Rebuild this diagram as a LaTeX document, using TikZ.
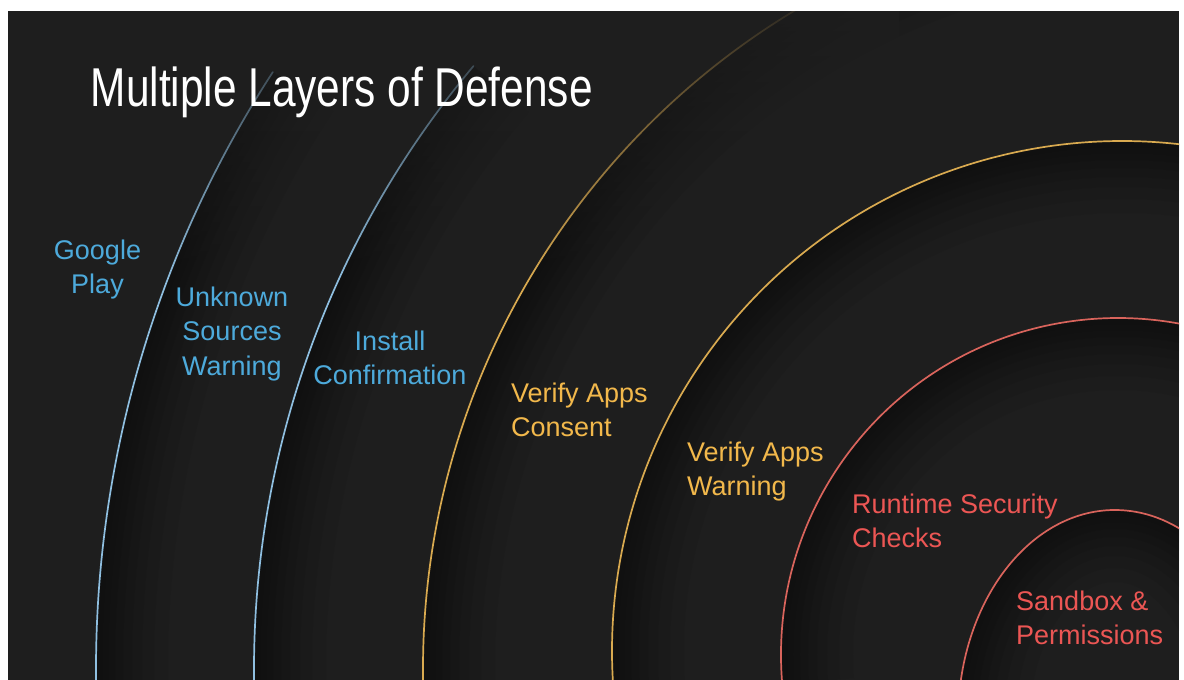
\documentclass[tikz,border=0pt]{standalone}
\usepackage{fontspec}
\setmainfont{Liberation Sans}
\usetikzlibrary{fadings}
\definecolor{bg}{HTML}{1E1E1E}
\definecolor{bluetxt}{HTML}{4DAADB}
\definecolor{blueline}{HTML}{8FBFE0}
\definecolor{orangetxt}{HTML}{F2B84B}
\definecolor{orangeline}{HTML}{D9AA50}
\definecolor{redtxt}{HTML}{EC5654}
\definecolor{redline}{HTML}{D9645C}
\tikzfading[name=topfade, top color=transparent!10, bottom color=transparent!100]
% #1 cx, #2 cy, #3 rx, #4 ry, #5 start, #6 end, #7 colour
\newcommand\layerarc[7]{%
  \foreach \w in {72,58,46,36,27,19,12,6}{%
    \pgfmathsetmacro\rxs{#3-\w/2}%
    \pgfmathsetmacro\rys{#4-\w/2}%
    \pgfmathsetmacro\sx{#1+\rxs*cos(#5)}%
    \pgfmathsetmacro\sy{#2+\rys*sin(#5)}%
    \draw[line width=\w pt, black, opacity=0.05]
      (\sx,\sy) arc[start angle=#5, end angle=#6, x radius=\rxs, y radius=\rys];
  }%
  \pgfmathsetmacro\sx{#1+#3*cos(#5)}%
  \pgfmathsetmacro\sy{#2+#4*sin(#5)}%
  \draw[arcline, #7] (\sx,\sy)
    arc[start angle=#5, end angle=#6, x radius=#3, y radius=#4];
}
\begin{document}
\begin{tikzpicture}[x=1pt,y=-1pt,
  arcline/.style={line width=1.7pt, line cap=round},
  lbl/.style={font=\fontsize{27}{34.5}\selectfont, inner sep=0pt},
  ctr/.style={lbl, align=center, anchor=base},
  lft/.style={lbl, align=left, anchor=base west}]
\useasboundingbox (0,0) rectangle (1184,680);
\fill[white] (0,0) rectangle (1184,680);
\fill[bg] (8,11) rectangle (1179,680);
\begin{scope}
\clip (8,11) rectangle (1179,680);
\layerarc{1192}{669}{1096}{1096}{178}{213}{blueline}
\layerarc{1192}{669}{938}{938}{178}{220}{blueline}
\layerarc{1192}{669}{769}{769}{178}{252}{orangeline}
\fill[bg, path fading=topfade] (8,11) rectangle (900,280);
\layerarc{1122}{651}{510}{510}{176}{285}{orangeline}
\layerarc{1118}{655}{337}{337}{175}{300}{redline}
\layerarc{1115}{720}{157}{210}{184}{335}{redline}
\end{scope}
\node[inner sep=0pt, anchor=north west, text=white] (title) at (90.5,67)
  {\resizebox*{502pt}{51pt}{Multiple Layers of Defense}};
\node[ctr, text=bluetxt] (gp) at (97.5,293.5) {Google\\Play};
\node[ctr, text=bluetxt] (us) at (232,375) {Unknown\\Sources\\Warning};
\node[ctr, text=bluetxt] (ic) at (390,384.5) {Install\\Confirmation};
\node[lft, text=orangetxt] (vc) at (511,436.5) {Verify Apps\\Consent};
\node[lft, text=orangetxt] (vw) at (687,495.5) {Verify Apps\\Warning};
\node[lft, text=redtxt] (rs) at (852,547.5) {Runtime Security\\Checks};
\node[lft, text=redtxt] (sp) at (1016,644.5) {Sandbox \&\\Permissions};
\end{tikzpicture}
\end{document}
